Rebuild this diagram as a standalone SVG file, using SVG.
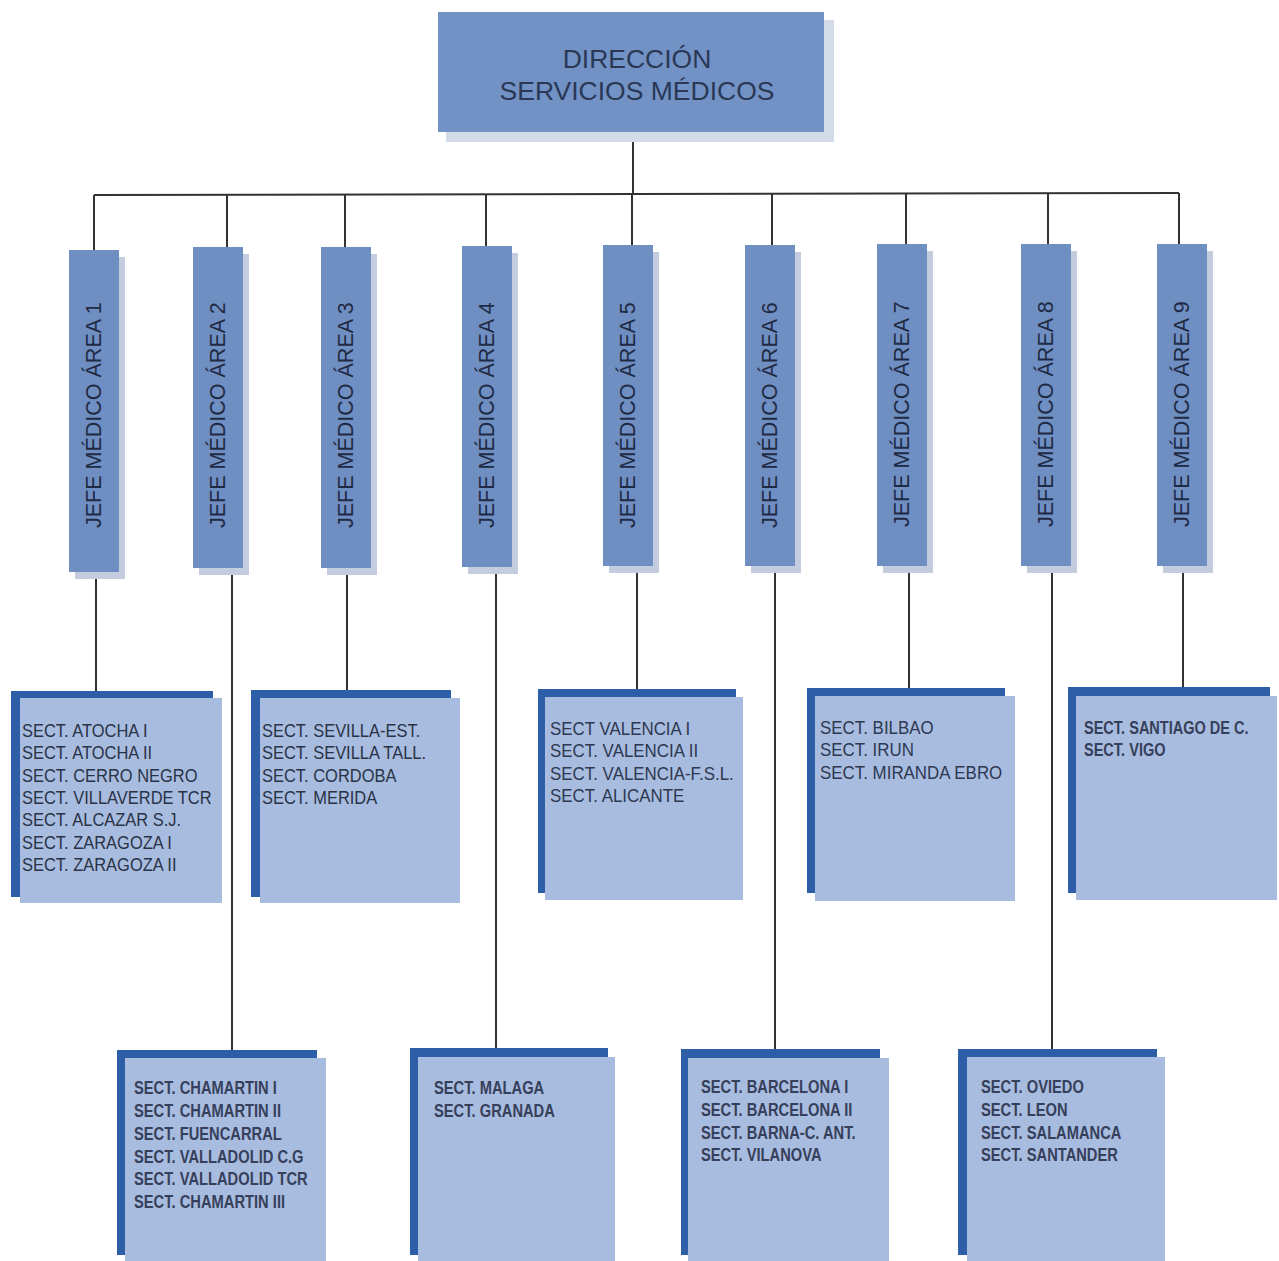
<svg xmlns="http://www.w3.org/2000/svg" width="1279" height="1261" viewBox="0 0 1279 1261">
<style>
.bg{fill:#ffffff}
.topbox{fill:#7292c5}
.topshadow{fill:#d3dbe8}
.vbox{fill:#6f8fc3}
.vshadow{fill:#c3cddf}
.dark{fill:#2f5ea9}
.light{fill:#a8bce0}
.conn{stroke:#333333;stroke-width:2;fill:none}
.title{font-family:"Liberation Sans",Arial,sans-serif;font-size:26.5px;fill:#2a3856;text-anchor:middle}
.vt{font-family:"Liberation Sans",Arial,sans-serif;font-size:21.5px;fill:#1f2a44}
.st{font-family:"Liberation Sans",Arial,sans-serif;font-size:18.5px;fill:#2a3346}
.sb{font-family:"Liberation Sans",Arial,sans-serif;font-size:17.5px;font-weight:bold;fill:#36405a}
.sm{font-family:"Liberation Sans",Arial,sans-serif;font-size:18px;fill:#2e3850}
</style>
<rect class="bg" x="0" y="0" width="1279" height="1261"/>
<g id="connectors">
<line class="conn" x1="633" y1="132" x2="633" y2="194"/>
<line class="conn" x1="94" y1="195" x2="1179" y2="193"/>
<line class="conn" x1="94" y1="195" x2="94" y2="250"/>
<line class="conn" x1="227" y1="195" x2="227" y2="247"/>
<line class="conn" x1="345" y1="194" x2="345" y2="247"/>
<line class="conn" x1="486" y1="194" x2="486" y2="246"/>
<line class="conn" x1="632" y1="194" x2="632" y2="245"/>
<line class="conn" x1="772" y1="194" x2="772" y2="245"/>
<line class="conn" x1="906" y1="193" x2="906" y2="244"/>
<line class="conn" x1="1048" y1="193" x2="1048" y2="244"/>
<line class="conn" x1="1179" y1="193" x2="1179" y2="244"/>
<line class="conn" x1="96" y1="572" x2="96" y2="691"/>
<line class="conn" x1="232" y1="568" x2="232" y2="1050"/>
<line class="conn" x1="347" y1="568" x2="347" y2="690"/>
<line class="conn" x1="496" y1="567" x2="496" y2="1049"/>
<line class="conn" x1="637" y1="566" x2="637" y2="689"/>
<line class="conn" x1="775" y1="566" x2="775" y2="1049"/>
<line class="conn" x1="909" y1="566" x2="909" y2="688"/>
<line class="conn" x1="1052" y1="566" x2="1052" y2="1049"/>
<line class="conn" x1="1183" y1="566" x2="1183" y2="687"/>
</g>
<g id="direccion">
<rect class="topshadow" x="446" y="20" width="388" height="122"/>
<rect class="topbox" x="438" y="12" width="386" height="120"/>
<text class="title" x="637" y="68">DIRECCIÓN</text>
<text class="title" x="637" y="100">SERVICIOS MÉDICOS</text>
</g>
<g id="area1">
<rect class="vshadow" x="75" y="257" width="50" height="322"/>
<rect class="vbox" x="69" y="250" width="50" height="322"/>
<text class="vt" transform="translate(101,528) rotate(-90)">JEFE MÉDICO ÁREA 1</text>
</g>
<g id="area2">
<rect class="vshadow" x="199" y="254" width="50" height="321"/>
<rect class="vbox" x="193" y="247" width="50" height="321"/>
<text class="vt" transform="translate(225,528) rotate(-90)">JEFE MÉDICO ÁREA 2</text>
</g>
<g id="area3">
<rect class="vshadow" x="327" y="254" width="50" height="321"/>
<rect class="vbox" x="321" y="247" width="50" height="321"/>
<text class="vt" transform="translate(353,528) rotate(-90)">JEFE MÉDICO ÁREA 3</text>
</g>
<g id="area4">
<rect class="vshadow" x="468" y="253" width="50" height="321"/>
<rect class="vbox" x="462" y="246" width="50" height="321"/>
<text class="vt" transform="translate(494,528) rotate(-90)">JEFE MÉDICO ÁREA 4</text>
</g>
<g id="area5">
<rect class="vshadow" x="609" y="252" width="50" height="321"/>
<rect class="vbox" x="603" y="245" width="50" height="321"/>
<text class="vt" transform="translate(635,528) rotate(-90)">JEFE MÉDICO ÁREA 5</text>
</g>
<g id="area6">
<rect class="vshadow" x="751" y="252" width="50" height="321"/>
<rect class="vbox" x="745" y="245" width="50" height="321"/>
<text class="vt" transform="translate(777,528) rotate(-90)">JEFE MÉDICO ÁREA 6</text>
</g>
<g id="area7">
<rect class="vshadow" x="883" y="251" width="50" height="322"/>
<rect class="vbox" x="877" y="244" width="50" height="322"/>
<text class="vt" transform="translate(909,527) rotate(-90)">JEFE MÉDICO ÁREA 7</text>
</g>
<g id="area8">
<rect class="vshadow" x="1027" y="251" width="50" height="322"/>
<rect class="vbox" x="1021" y="244" width="50" height="322"/>
<text class="vt" transform="translate(1053,527) rotate(-90)">JEFE MÉDICO ÁREA 8</text>
</g>
<g id="area9">
<rect class="vshadow" x="1163" y="251" width="50" height="322"/>
<rect class="vbox" x="1157" y="244" width="50" height="322"/>
<text class="vt" transform="translate(1189,527) rotate(-90)">JEFE MÉDICO ÁREA 9</text>
</g>
<g id="sect1">
<rect class="dark" x="11" y="691" width="202" height="206"/>
<rect class="light" x="20" y="698" width="202" height="205"/>
<g transform="translate(22,0) scale(0.89,1)">
<text class="st" x="0" y="737">SECT. ATOCHA I</text>
<text class="st" x="0" y="759">SECT. ATOCHA II</text>
<text class="st" x="0" y="782">SECT. CERRO NEGRO</text>
<text class="st" x="0" y="804">SECT. VILLAVERDE TCR</text>
<text class="st" x="0" y="826">SECT. ALCAZAR S.J.</text>
<text class="st" x="0" y="849">SECT. ZARAGOZA I</text>
<text class="st" x="0" y="871">SECT. ZARAGOZA II</text>
</g>
</g>
<g id="sect3">
<rect class="dark" x="251" y="690" width="200" height="207"/>
<rect class="light" x="260" y="698" width="200" height="205"/>
<g transform="translate(262,0) scale(0.89,1)">
<text class="st" x="0" y="737">SECT. SEVILLA-EST.</text>
<text class="st" x="0" y="759">SECT. SEVILLA TALL.</text>
<text class="st" x="0" y="782">SECT. CORDOBA</text>
<text class="st" x="0" y="804">SECT. MERIDA</text>
</g>
</g>
<g id="sect5">
<rect class="dark" x="538" y="689" width="198" height="204"/>
<rect class="light" x="545" y="697" width="198" height="203"/>
<g transform="translate(550,0) scale(0.94,1)">
<text class="sm" x="0" y="735">SECT VALENCIA I</text>
<text class="sm" x="0" y="757">SECT. VALENCIA II</text>
<text class="sm" x="0" y="780">SECT. VALENCIA-F.S.L.</text>
<text class="sm" x="0" y="802">SECT. ALICANTE</text>
</g>
</g>
<g id="sect7">
<rect class="dark" x="807" y="688" width="198" height="205"/>
<rect class="light" x="815" y="696" width="200" height="205"/>
<g transform="translate(820,0) scale(0.94,1)">
<text class="sm" x="0" y="734">SECT. BILBAO</text>
<text class="sm" x="0" y="756">SECT. IRUN</text>
<text class="sm" x="0" y="779">SECT. MIRANDA EBRO</text>
</g>
</g>
<g id="sect9">
<rect class="dark" x="1068" y="687" width="202" height="206"/>
<rect class="light" x="1076" y="696" width="201" height="204"/>
<g transform="translate(1084,0) scale(0.83,1)">
<text class="sb" x="0" y="734">SECT. SANTIAGO DE C.</text>
<text class="sb" x="0" y="756">SECT. VIGO</text>
</g>
</g>
<g id="sect2">
<rect class="dark" x="117" y="1050" width="200" height="205"/>
<rect class="light" x="125" y="1058" width="201" height="203"/>
<g transform="translate(134,0) scale(0.84,1)">
<text class="sb" x="0" y="1094">SECT. CHAMARTIN I</text>
<text class="sb" x="0" y="1117">SECT. CHAMARTIN II</text>
<text class="sb" x="0" y="1140">SECT. FUENCARRAL</text>
<text class="sb" x="0" y="1163">SECT. VALLADOLID C.G</text>
<text class="sb" x="0" y="1185">SECT. VALLADOLID TCR</text>
<text class="sb" x="0" y="1208">SECT. CHAMARTIN III</text>
</g>
</g>
<g id="sect4">
<rect class="dark" x="410" y="1048" width="198" height="207"/>
<rect class="light" x="418" y="1057" width="197" height="204"/>
<g transform="translate(434,0) scale(0.84,1)">
<text class="sb" x="0" y="1094">SECT. MALAGA</text>
<text class="sb" x="0" y="1117">SECT. GRANADA</text>
</g>
</g>
<g id="sect6">
<rect class="dark" x="681" y="1049" width="199" height="206"/>
<rect class="light" x="688" y="1058" width="201" height="203"/>
<g transform="translate(701,0) scale(0.84,1)">
<text class="sb" x="0" y="1093">SECT. BARCELONA I</text>
<text class="sb" x="0" y="1116">SECT. BARCELONA II</text>
<text class="sb" x="0" y="1139">SECT. BARNA-C. ANT.</text>
<text class="sb" x="0" y="1161">SECT. VILANOVA</text>
</g>
</g>
<g id="sect8">
<rect class="dark" x="958" y="1049" width="199" height="206"/>
<rect class="light" x="967" y="1057" width="198" height="204"/>
<g transform="translate(981,0) scale(0.84,1)">
<text class="sb" x="0" y="1093">SECT. OVIEDO</text>
<text class="sb" x="0" y="1116">SECT. LEON</text>
<text class="sb" x="0" y="1139">SECT. SALAMANCA</text>
<text class="sb" x="0" y="1161">SECT. SANTANDER</text>
</g>
</g>
</svg>
